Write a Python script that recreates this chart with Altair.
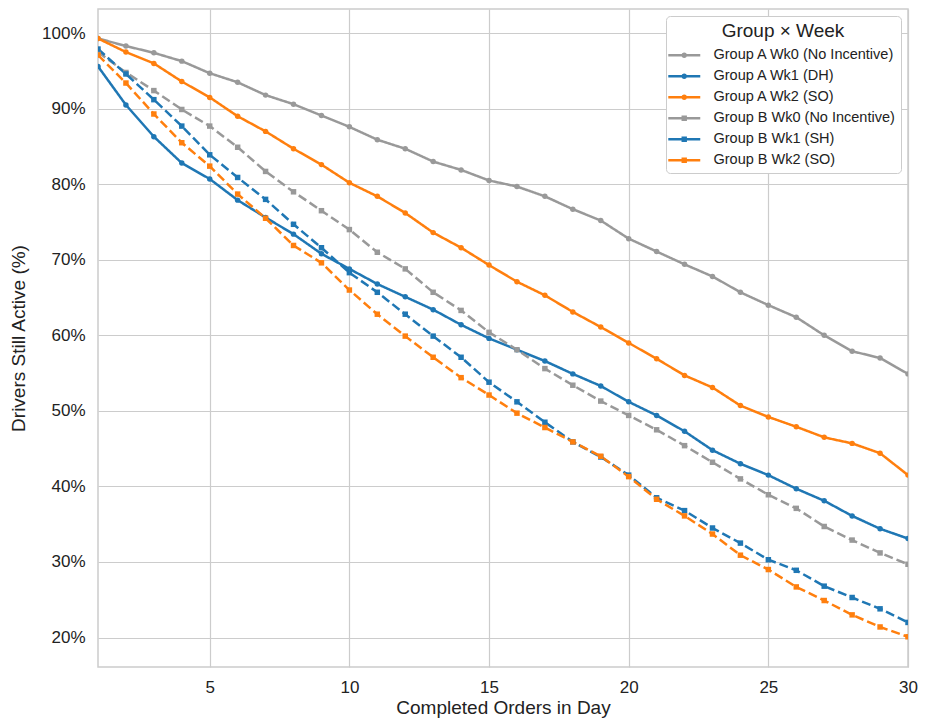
import altair as alt
import pandas as pd

orders = list(range(1, 31))
series_names = [
    "Group A Wk0 (No Incentive)",
    "Group A Wk1 (DH)",
    "Group A Wk2 (SO)",
    "Group B Wk0 (No Incentive)",
    "Group B Wk1 (SH)",
    "Group B Wk2 (SO)",
]
groups = ["A", "A", "A", "B", "B", "B"]

a_wk0 = [99.3, 98.3, 97.4, 96.3, 94.7, 93.5, 91.8, 90.6, 89.1, 87.6, 85.9, 84.7, 83.0, 81.9, 80.5,
         79.7, 78.4, 76.7, 75.2, 72.8, 71.1, 69.4, 67.8, 65.7, 64.0, 62.4, 60.0, 57.9, 57.0, 54.9]
a_wk1 = [95.6, 90.5, 86.3, 82.8, 80.7, 77.9, 75.6, 73.4, 70.8, 68.8, 66.8, 65.1, 63.4, 61.4, 59.6,
         58.1, 56.6, 54.9, 53.3, 51.2, 49.4, 47.3, 44.8, 43.0, 41.5, 39.7, 38.1, 36.1, 34.4, 33.1]
a_wk2 = [99.3, 97.5, 96.0, 93.6, 91.5, 89.0, 87.0, 84.7, 82.6, 80.2, 78.4, 76.2, 73.6, 71.6, 69.3,
         67.1, 65.3, 63.1, 61.1, 59.0, 56.9, 54.7, 53.1, 50.7, 49.2, 47.9, 46.5, 45.7, 44.4, 41.5]
b_wk0 = [97.5, 94.8, 92.4, 89.9, 87.7, 84.9, 81.7, 79.0, 76.5, 74.0, 71.0, 68.8, 65.7, 63.3, 60.4,
         58.1, 55.6, 53.4, 51.3, 49.4, 47.5, 45.4, 43.2, 41.0, 38.9, 37.1, 34.7, 32.9, 31.2, 29.7]
b_wk1 = [97.9, 94.6, 91.2, 87.7, 83.9, 80.9, 78.0, 74.7, 71.6, 68.3, 65.7, 62.8, 59.9, 57.1, 53.8,
         51.2, 48.5, 45.9, 43.9, 41.5, 38.5, 36.8, 34.5, 32.5, 30.3, 28.9, 26.8, 25.3, 23.8, 22.0]
b_wk2 = [97.1, 93.4, 89.3, 85.5, 82.4, 78.7, 75.5, 71.9, 69.6, 66.0, 62.8, 59.9, 57.1, 54.4, 52.1,
         49.7, 47.8, 45.9, 44.0, 41.3, 38.3, 36.1, 33.7, 30.9, 29.0, 26.7, 24.9, 23.0, 21.4, 20.1]

all_values = [a_wk0, a_wk1, a_wk2, b_wk0, b_wk1, b_wk2]
x_ticks = [5, 10, 15, 20, 25, 30]
y_ticks = [20, 30, 40, 50, 60, 70, 80, 90, 100]

colors = ["#999999", "#1f77b4", "#ff7f0e", "#999999", "#1f77b4", "#ff7f0e"]
dashes = [[1, 0], [1, 0], [1, 0], [9, 4], [9, 4], [9, 4]]

line_bar = "M-1.83,-0.2L3.5,-0.2L3.5,0.2L-1.83,0.2Z"
sym_circle = line_bar + " M1.3,0A0.47,0.47,0,1,1,0.36,0A0.47,0.47,0,1,1,1.3,0Z"
sym_square = line_bar + " M0.38,-0.45L1.28,-0.45L1.28,0.45L0.38,0.45Z"
legend_shapes = [sym_circle if g == "A" else sym_square for g in groups]

rows = []
for name, grp, vals in zip(series_names, groups, all_values):
    for o, v in zip(orders, vals):
        rows.append({"order": o, "value": v, "series": name, "group": grp})
df = pd.DataFrame(rows)

FONT = "Liberation Sans"
TXT = "#222222"

x_enc = alt.X(
    "order:Q",
    scale=alt.Scale(domain=[1, 30], nice=False, zero=False),
    axis=alt.Axis(values=x_ticks, title="Completed Orders in Day", labelPadding=12, titlePadding=3,
                  labelFlush=False, labelOverlap=False),
)
y_enc = alt.Y(
    "value:Q",
    scale=alt.Scale(domain=[16.1, 103.2], nice=False, zero=False),
    axis=alt.Axis(values=y_ticks, labelExpr="datum.value + '%'", title="Drivers Still Active (%)",
                  labelPadding=13, titlePadding=13, labelFlush=False),
)
color_scale = alt.Scale(domain=series_names, range=colors)

legend_props = dict(
    title="Group × Week",
    orient="top-right",
    offset=7,
    fillColor="white",
    strokeColor="#cccccc",
    cornerRadius=4,
    padding=6,
    titleFontSize=19,
    titleFontWeight="normal",
    titleAnchor="middle",
    titleColor=TXT,
    titleFont=FONT,
    titlePadding=7,
    labelFontSize=14.5,
    labelFont=FONT,
    labelColor=TXT,
    labelOffset=27,
    labelLimit=0,
    symbolSize=144,
    symbolStrokeWidth=0,
    rowPadding=6,
)

base = alt.Chart(df)

legend_layer = base.mark_point(filled=True, size=0, opacity=1).encode(
    x=x_enc,
    y=y_enc,
    color=alt.Color("series:N", scale=color_scale, legend=alt.Legend(**legend_props)),
    shape=alt.Shape("series:N", scale=alt.Scale(domain=series_names, range=legend_shapes),
                    legend=alt.Legend(**legend_props)),
)

lines = base.mark_line(strokeWidth=2.5, clip=True).encode(
    x=x_enc,
    y=y_enc,
    color=alt.Color("series:N", scale=color_scale, legend=None),
    strokeDash=alt.StrokeDash("series:N", scale=alt.Scale(domain=series_names, range=dashes), legend=None),
)

pts_a = base.transform_filter(alt.datum.group == "A").mark_point(
    filled=True, size=30, shape="circle", opacity=1, clip=True
).encode(x=x_enc, y=y_enc, color=alt.Color("series:N", scale=color_scale, legend=None))

pts_b = base.transform_filter(alt.datum.group == "B").mark_point(
    filled=True, size=30, shape="square", opacity=1, clip=True
).encode(x=x_enc, y=y_enc, color=alt.Color("series:N", scale=color_scale, legend=None))

chart = alt.layer(legend_layer, lines, pts_a, pts_b).properties(
    width=810,
    height=658,
    background="white",
    autosize=alt.AutoSizeParams(type="none"),
    padding={"left": 90, "top": 1, "right": 10, "bottom": 53},
).configure_view(
    stroke="#cccccc", strokeWidth=1.5
).configure_axis(
    grid=True,
    gridColor="#cccccc",
    gridWidth=1.2,
    ticks=False,
    domain=False,
    labelFont=FONT,
    labelFontSize=17,
    labelColor=TXT,
    titleFont=FONT,
    titleFontSize=19,
    titleFontWeight="normal",
    titleColor=TXT,
)

chart.save("out.html", embed_options={"renderer": "svg", "actions": False})
